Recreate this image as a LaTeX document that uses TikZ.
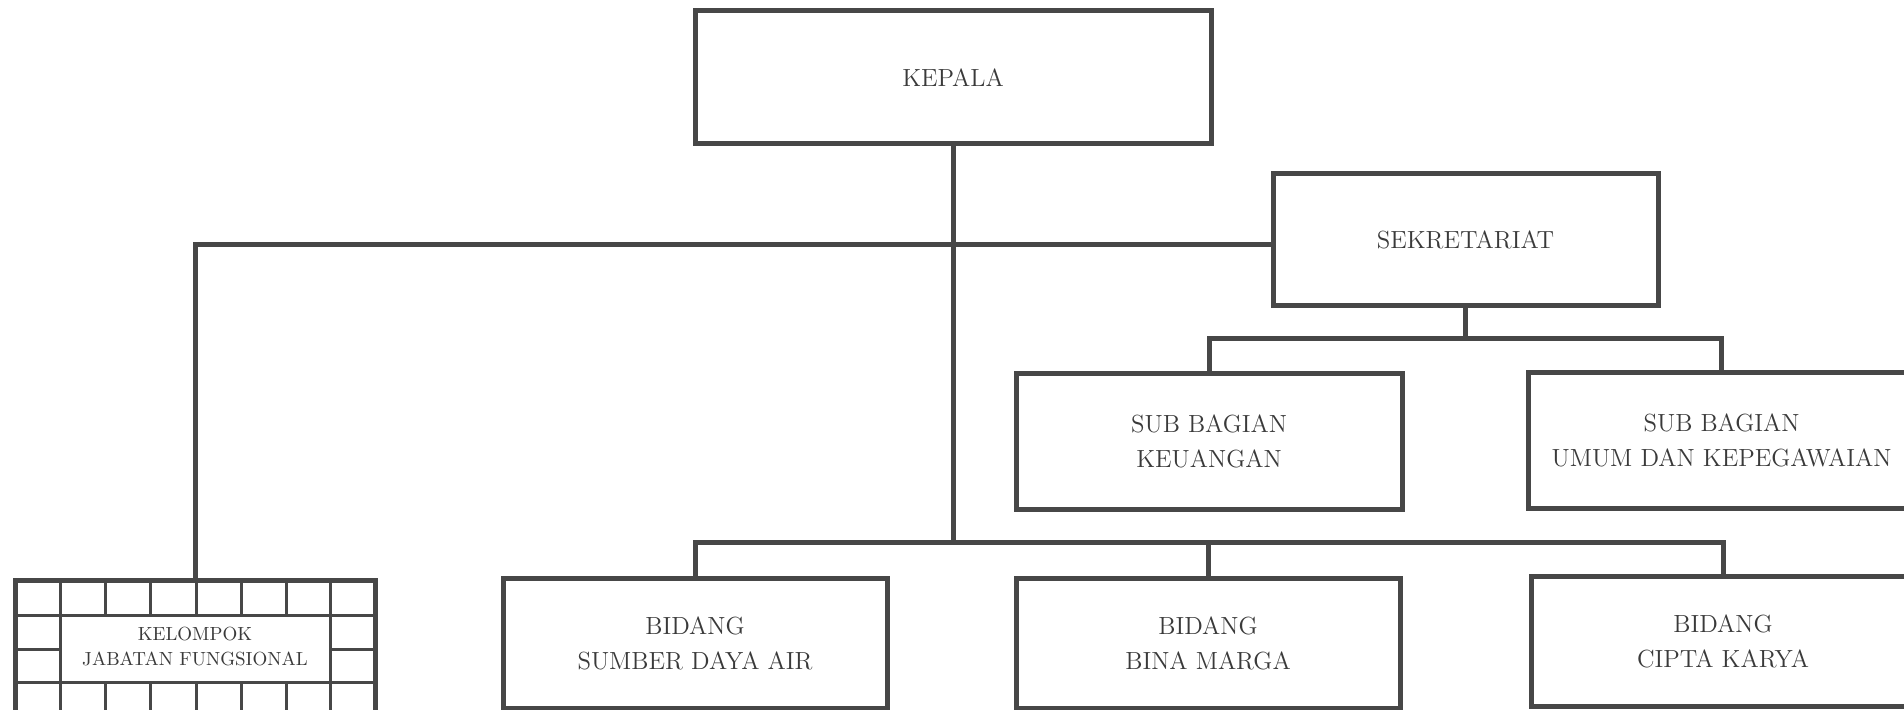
\documentclass[tikz,border=0pt]{standalone}
\usetikzlibrary{positioning}
\definecolor{ink}{HTML}{474747}
\definecolor{txt}{HTML}{3A3A3A}
\begin{document}
\begin{tikzpicture}[x=0.5pt,y=-0.5pt,
  box/.style={draw=ink, line width=2.5pt, fill=white, inner sep=0pt, align=center,
    text=txt, font=\fontsize{12.4}{17.5}\selectfont},
  conn/.style={draw=ink, line width=2.5pt},
  grid/.style={draw=ink, line width=1.5pt}]
\useasboundingbox (0,0) rectangle (1904,710);
\clip (0,0) rectangle (1904,710);
\fill[white] (0,0) rectangle (1904,710);
% boxes
\node[box, minimum width=258pt, minimum height=66.5pt] (kepala) at (953,77.5) {KEPALA};
\node[box, minimum width=192.5pt, minimum height=66pt] (sek) at (1465.5,240) {SEKRETARIAT};
\node[box, minimum width=193pt, minimum height=68pt] (keu) at (1209,441.5) {SUB BAGIAN\\KEUANGAN};
\node[box, minimum width=193.5pt, minimum height=67.5pt] (umum) at (1721.5,440.5) {SUB BAGIAN\\UMUM DAN KEPEGAWAIAN};
\node[box, minimum width=192pt, minimum height=65pt] (sda) at (695,643) {BIDANG\\SUMBER DAYA AIR};
\node[box, minimum width=192pt, minimum height=65pt] (bina) at (1208,643) {BIDANG\\BINA MARGA};
\node[box, minimum width=192pt, minimum height=65pt] (cipta) at (1723,641) {BIDANG\\CIPTA KARYA};
\node[box, minimum width=180pt, minimum height=67pt, font=\fontsize{9.5}{12.5}\selectfont] (kjf) at (195,647) {KELOMPOK\\JABATAN FUNGSIONAL};
% grid of the KJF box
\draw[grid] (15,615) -- (375,615);
\draw[grid] (15,682) -- (375,682);
\draw[grid] (15,649) -- (60,649);
\draw[grid] (330,649) -- (375,649);
\foreach \gx in {60,105,150,196,241,286,330} {
  \draw[grid] (\gx,580) -- (\gx,615);
  \draw[grid] (\gx,682) -- (\gx,715);
}
\draw[grid] (60,615) -- (60,682);
\draw[grid] (330,615) -- (330,682);
\draw[draw=ink, line width=2.5pt] (15,580) rectangle (375,714);
% connectors
\coordinate (bbus) at (953,542);
\coordinate (sbus) at (1465.5,339);
\draw[conn] (kepala.south) -- (bbus);
\draw[conn] (sda.north) |- (bbus) -| (cipta.north);
\draw[conn] (bina.north) -- (bina.north |- bbus);
\draw[conn] (kjf.north) |- ([yshift=-2.5pt]sek.west);
\draw[conn] (sek.south) -- (sbus);
\draw[conn] (keu.north) |- (sbus) -| (umum.north);
\end{tikzpicture}
\end{document}
